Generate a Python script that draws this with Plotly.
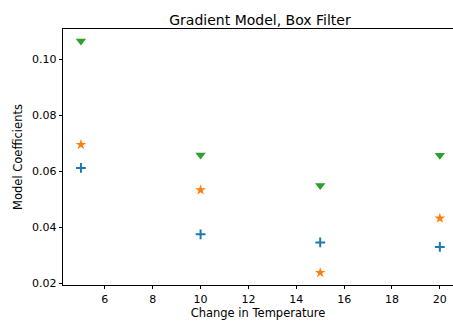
import plotly.graph_objects as go

temps = [5, 10, 15, 20]
coef_plus = [0.0612, 0.0375, 0.0346, 0.0330]
coef_star = [0.0695, 0.0533, 0.0238, 0.0432]
coef_tri = [0.1065, 0.0658, 0.0549, 0.0657]

x_ticks = [6, 8, 10, 12, 14, 16, 18, 20]
y_ticks = [0.02, 0.04, 0.06, 0.08, 0.10]
y_tick_labels = ["0.02", "0.04", "0.06", "0.08", "0.10"]

fig = go.Figure()
fig.add_trace(go.Scatter(x=temps, y=coef_plus, mode="markers",
                         marker=dict(symbol="cross-thin", size=7, color="#1f77b4",
                                     line=dict(width=2, color="#1f77b4"))))
fig.add_trace(go.Scatter(x=temps, y=coef_star, mode="markers",
                         marker=dict(symbol="star", size=8, color="#ff7f0e", line=dict(width=0))))
fig.add_trace(go.Scatter(x=temps, y=coef_tri, mode="markers",
                         marker=dict(symbol="triangle-down", size=9, color="#2ca02c", line=dict(width=0))))

fig.update_layout(
    width=453, height=327,
    margin=dict(l=63, r=0, t=29, b=42),
    paper_bgcolor="white", plot_bgcolor="white",
    showlegend=False,
    font=dict(family="DejaVu Sans", size=11, color="black"),
    title=dict(text="Gradient Model, Box Filter", x=260/453, xanchor="center",
               y=1 - 25/327, yanchor="bottom", font=dict(size=14, color="black")),
)
fig.update_xaxes(range=[4.25, 20.55], tickvals=x_ticks, ticks="outside", ticklen=3.5,
                 tickwidth=0.8, tickcolor="black", showline=True, linecolor="black",
                 linewidth=0.8, mirror=True, showgrid=False, zeroline=False,
                 tickfont=dict(size=11),
                 title=dict(text="Change in Temperature", standoff=2, font=dict(size=11.5)))
fig.update_yaxes(range=[0.0194, 0.1108], tickvals=y_ticks, ticktext=y_tick_labels,
                 ticks="outside", ticklen=3.5, tickwidth=0.8, tickcolor="black",
                 showline=True, linecolor="black", linewidth=0.8, showgrid=False,
                 zeroline=False, tickfont=dict(size=11),
                 title=dict(text="Model Coefficients", standoff=6, font=dict(size=11.5)))

fig.write_html("out.html")
